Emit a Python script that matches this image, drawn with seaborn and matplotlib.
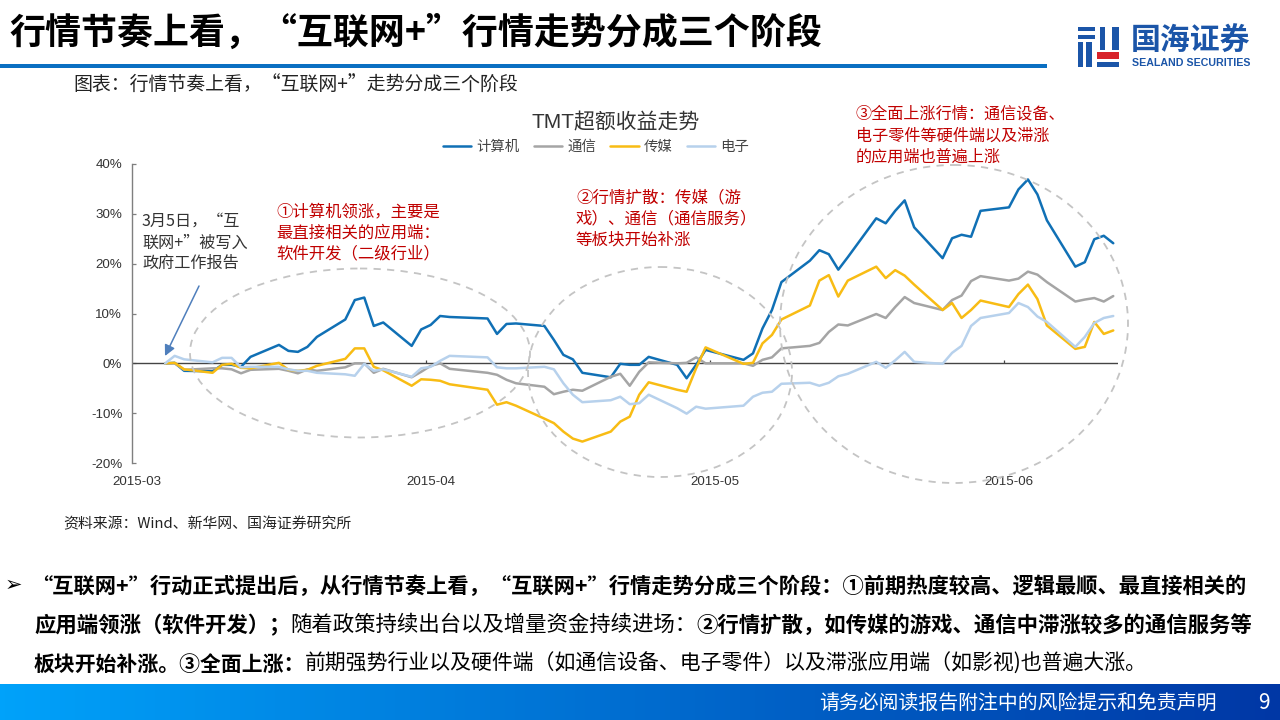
import numpy as np
import pandas as pd
import matplotlib
matplotlib.use("Agg")
import matplotlib.pyplot as plt
from matplotlib.patches import Ellipse, Rectangle
import seaborn as sns

# -----------------------------
# 1. Data
# -----------------------------
mar_days = [4, 5, 6, 9, 10, 11, 12, 13, 16, 17, 18, 19, 20, 23, 24, 25, 26, 27, 30, 31]
apr_days = [1, 2, 3, 7, 8, 9, 10, 13, 14, 15, 16, 17, 20, 21, 22, 23, 24, 27, 28, 29, 30]
may_days = [4, 5, 6, 7, 8, 11, 12, 13, 14, 15, 18, 19, 20, 21, 22, 25, 26, 27, 28, 29]
jun_days = [1, 2, 3, 4, 5, 8, 9, 10, 11, 12]

computer = [0, 0.1, -1.5, -1.6, -0.3, -0.3, -0.7, 1.3, 3.7, 2.5, 2.3, 3.3, 5.3, 8.8, 12.7, 13.2, 7.5, 8.2, 3.5, 6.8,
            7.7, 9.5, 9.3, 9.0, 5.9, 7.9, 8.0, 7.5, 4.7, 1.7, 0.8, -1.9, -2.8, -0.1, -0.3, -0.3, 1.3, -0.3, -3.0, -0.3, 2.7,
            0.7, 2.0, 7.0, 10.7, 16.3, 20.6, 22.7, 21.9, 18.8, 21.3, 29.1, 28.1, 30.6, 32.7, 27.3, 21.1, 25.1, 25.8, 25.4, 30.6,
            31.3, 34.9, 36.9, 33.9, 28.7, 19.4, 20.3, 24.9, 25.6, 24.1]
telecom = [0, 0, -1.3, -1.0, -1.0, -1.2, -2.0, -1.3, -1.1, -1.5, -2.0, -1.2, -1.5, -0.8, 0, 0, -1.9, -1.1, -2.8, -1.7,
           -0.5, 0, -1.1, -1.9, -2.3, -3.3, -4.0, -4.7, -6.2, -5.7, -5.3, -5.5, -2.7, -2.1, -4.5, -1.7, 0.2, 0, 0.1, 1.2, 0,
           0, -0.5, 0.7, 1.2, 3.0, 3.5, 4.1, 6.3, 7.8, 7.6, 9.9, 9.1, 11.3, 13.3, 12.1, 10.7, 12.7, 13.6, 16.5, 17.5,
           16.6, 17.0, 18.4, 17.8, 16.3, 12.4, 12.8, 13.1, 12.4, 13.5]
media = [0, 0.1, -1.2, -1.9, -0.3, -0.1, -0.9, -1.0, 0.1, -1.3, -1.5, -1.3, -0.5, 0.9, 3.0, 3.0, -0.7, -1.4, -4.5, -3.2,
         -3.3, -3.5, -4.2, -5.3, -8.3, -7.8, -8.5, -11.1, -12.0, -13.7, -15.1, -15.7, -13.7, -11.7, -10.7, -6.3, -3.8, -5.3, -5.7, -1.0, 3.2,
         -0.1, 0.1, 4.0, 5.7, 8.8, 11.6, 16.6, 17.7, 13.4, 16.6, 19.4, 17.1, 18.7, 17.6, 15.8, 10.7, 12.1, 9.1, 10.7, 12.6,
         11.3, 13.9, 15.8, 12.9, 7.6, 2.9, 3.3, 8.3, 5.9, 6.6]
electronics = [0, 1.5, 0.8, 0.2, 1.1, 1.1, -0.8, -0.7, -0.7, -1.2, -1.5, -1.5, -1.9, -2.2, -2.5, -0.1, -1.5, -1.2, -2.7, -1.0,
               -0.7, 0.5, 1.5, 1.2, -0.8, -1.0, -1.0, -0.7, -1.2, -4.0, -6.3, -7.8, -7.4, -6.7, -8.2, -8.0, -6.3, -9.0, -10.1, -8.7, -9.1,
               -8.5, -6.7, -5.9, -5.7, -4.1, -3.9, -4.5, -3.9, -2.6, -2.1, 0.3, -0.9, 0.6, 2.3, 0.3, -0.1, 2.1, 3.5, 7.5, 9.1,
               10.1, 12.1, 11.3, 9.4, 8.3, 3.3, 5.3, 8.1, 9.1, 9.5]

series_names = ["计算机", "通信", "传媒", "电子"]
series_colors = ["#1070B5", "#A5A5A5", "#F8BC14", "#B7D1EC"]
y_ticks = [-20, -10, 0, 10, 20, 30, 40]
month_labels = ["2015-03", "2015-04", "2015-05", "2015-06"]

dates = pd.to_datetime(
    [f"2015-03-{d:02d}" for d in mar_days]
    + [f"2015-04-{d:02d}" for d in apr_days]
    + [f"2015-05-{d:02d}" for d in may_days]
    + [f"2015-06-{d:02d}" for d in jun_days]
)
df = pd.DataFrame({"date": dates, "计算机": computer, "通信": telecom, "传媒": media, "电子": electronics})
long_df = df.melt(id_vars="date", var_name="行业", value_name="超额收益")

# -----------------------------
# 2. Fonts and figure
# -----------------------------
sns.set_theme(style="white")
CJK = ["Noto Sans CJK SC", "DejaVu Sans"]
LATIN = ["Liberation Sans", "Noto Sans CJK SC"]
plt.rcParams["font.family"] = CJK
plt.rcParams["axes.unicode_minus"] = False

fig = plt.figure(figsize=(12.8, 7.2), dpi=100, facecolor="white")

# chart axes: 132-1118 px wide, 164-463 px tall
ax = fig.add_axes([132 / 1280, 1 - 463 / 720, (1118 - 132) / 1280, (463 - 164) / 720])
ax.patch.set_alpha(0)

sns.lineplot(data=long_df, x="date", y="超额收益", hue="行业", hue_order=series_names,
             palette=series_colors, linewidth=1.8, ax=ax, solid_joinstyle="round")

half_day = pd.Timedelta(hours=12)
month_starts = pd.to_datetime(["2015-03-01", "2015-04-01", "2015-05-01", "2015-06-01"])
ax.set_xlim(month_starts[0] - half_day, pd.Timestamp("2015-06-13") - half_day)
ax.set_ylim(-20, 40)
ax.set_xticks(month_starts)
ax.set_xticklabels(month_labels, family=LATIN, fontsize=9.6, color="#333333")
ax.tick_params(axis="x", length=0, pad=9)
ax.set_yticks(y_ticks)
ax.set_yticklabels([f"{v}%" for v in y_ticks], family=LATIN, fontsize=9.6, color="#333333")
ax.tick_params(axis="y", direction="in", length=3, width=0.9, color="#7F7F7F", pad=7, left=True)
ax.set_xlabel("")
ax.set_ylabel("")

for name in ["top", "right", "bottom"]:
    ax.spines[name].set_visible(False)
ax.spines["left"].set_color("#7F7F7F")
ax.spines["left"].set_linewidth(1.0)

ax.axhline(0, color="#444444", linewidth=1.0, zorder=1)
ax.vlines(month_starts[1:] - half_day, 0, 0.7, color="#444444", linewidth=0.9, zorder=1)

leg = ax.legend(loc="center", bbox_to_anchor=((596 - 132) / 986, 1 + 17 / 299), ncol=4, frameon=False,
                fontsize=10.4, handlelength=1.95, handletextpad=0.35, columnspacing=1.0, labelcolor="#444444")
for line in leg.get_lines():
    line.set_linewidth(1.8)

# -----------------------------
# 3. Page furniture (pixel coordinates)
# -----------------------------
page = fig.add_axes([0, 0, 1, 1], zorder=5)
page.set_xlim(0, 1280)
page.set_ylim(720, 0)
page.axis("off")
page.patch.set_alpha(0)

# header rule
page.add_patch(Rectangle((0, 64), 1047, 4, color="#0A6FC2", lw=0))

# footer gradient
grad = np.linspace(0, 1, 256).reshape(1, -1, 1)
left_col = np.array([0, 162, 250]).reshape(1, 1, 3) / 255
right_col = np.array([0, 55, 165]).reshape(1, 1, 3) / 255
page.imshow(left_col + (right_col - left_col) * grad, extent=(0, 1280, 720, 684), aspect="auto", zorder=1)
page.set_xlim(0, 1280)
page.set_ylim(720, 0)

page.text(9, 33, "行情节奏上看，“互联网+”行情走势分成三个阶段", fontsize=25.9, fontweight="bold",
          color="black", va="center")
page.text(73, 85, "图表：行情节奏上看，“互联网+”走势分成三个阶段", fontsize=13.6, color="#222222", va="center")
page.text(63, 524, "资料来源：Wind、新华网、国海证券研究所", fontsize=10.7, color="#222222", va="center")

page.text(531, 122, "TMT超额收益走势", fontsize=15, color="#333333", va="center", family=LATIN)

# logo
logo_blue = "#1B55A8"
logo_bars = [(1078, 27, 17, 4), (1078, 35, 17, 4), (1078, 42, 5, 25), (1086, 42, 6, 25),
             (1100, 27, 5, 23), (1112, 27, 7, 23), (1097, 62, 22, 5)]
for bx, by, bw, bh in logo_bars:
    page.add_patch(Rectangle((bx, by), bw, bh, color=logo_blue, lw=0))
page.add_patch(Rectangle((1097, 52), 22, 7, color="#D8232A", lw=0))
page.text(1131, 41, "国海证券", fontsize=21.5, fontweight="bold", color=logo_blue, va="center")
page.text(1132, 63, "SEALAND SECURITIES", fontsize=7.7, fontweight="bold", color=logo_blue, va="center", family=LATIN)

# dashed ellipses around the three stages
for cx, cy, w, h in [(360, 353, 340, 169), (660, 372, 264, 210), (954, 324, 348, 318)]:
    page.add_patch(Ellipse((cx, cy), w, h, fill=False, ec="#C4C4C4", lw=1.3, ls=(0, (4, 3.5))))

# arrow to the policy date
page.annotate("", xy=(165, 356), xytext=(199, 286),
              arrowprops=dict(arrowstyle="-|>", color="#4F7FBC", lw=1.1, mutation_scale=16, shrinkA=0, shrinkB=0))

for y, s in zip([221, 243, 263], ["3月5日，“互", "联网+”被写入", "政府工作报告"]):
    page.text(142, y, s, fontsize=11.6, color="#333333", va="center")

red = "#C00000"
stage_notes = [
    (276, [212, 233, 254], ["①计算机领涨，主要是", "最直接相关的应用端：", "软件开发（二级行业）"], 11.8),
    (576, [198, 219, 240], ["②行情扩散：传媒（游", "戏）、通信（通信服务）", "等板块开始补涨"], 11.9),
    (856, [114, 136, 157], ["③全面上涨行情：通信设备、", "电子零件等硬件端以及滞涨", "的应用端也普遍上涨"], 11.6),
]
for x0, ys, rows, fs in stage_notes:
    for y, s in zip(ys, rows):
        page.text(x0, y, s, fontsize=fs, color=red, va="center")

# body text, bold and regular runs on one line
renderer = fig.canvas.get_renderer()


def text_runs(x, y, runs, size=15):
    for s, weight in runs:
        t = page.text(x, y, s, fontsize=size, fontweight=weight, color="black", va="center")
        x += t.get_window_extent(renderer).width


page.text(5, 585, "➢", fontsize=15, color="black", va="center", family=["DejaVu Sans"])
text_runs(31, 586, [("“互联网+”行动正式提出后，从行情节奏上看，“互联网+”行情走势分成三个阶段：①前期热度较高、逻辑最顺、最直接相关的", "bold")], size=15.3)
text_runs(34, 625, [("应用端领涨（软件开发）；", "bold"), ("随着政策持续出台以及增量资金持续进场：", "normal"),
                    ("②行情扩散，如传媒的游戏、通信中滞涨较多的通信服务等", "bold")], size=15.43)
text_runs(34, 664, [("板块开始补涨。③全面上涨：", "bold"), ("前期强势行业以及硬件端（如通信设备、电子零件）以及滞涨应用端（如影视)也普遍大涨。", "normal")], size=15)

page.text(819, 703, "请务必阅读报告附注中的风险提示和免责声明", fontsize=14.3, color="white", va="center", zorder=3)
page.text(1264, 703, "9", fontsize=15, color="white", va="center", ha="center", zorder=3)

fig.savefig("out.png", dpi=100)
